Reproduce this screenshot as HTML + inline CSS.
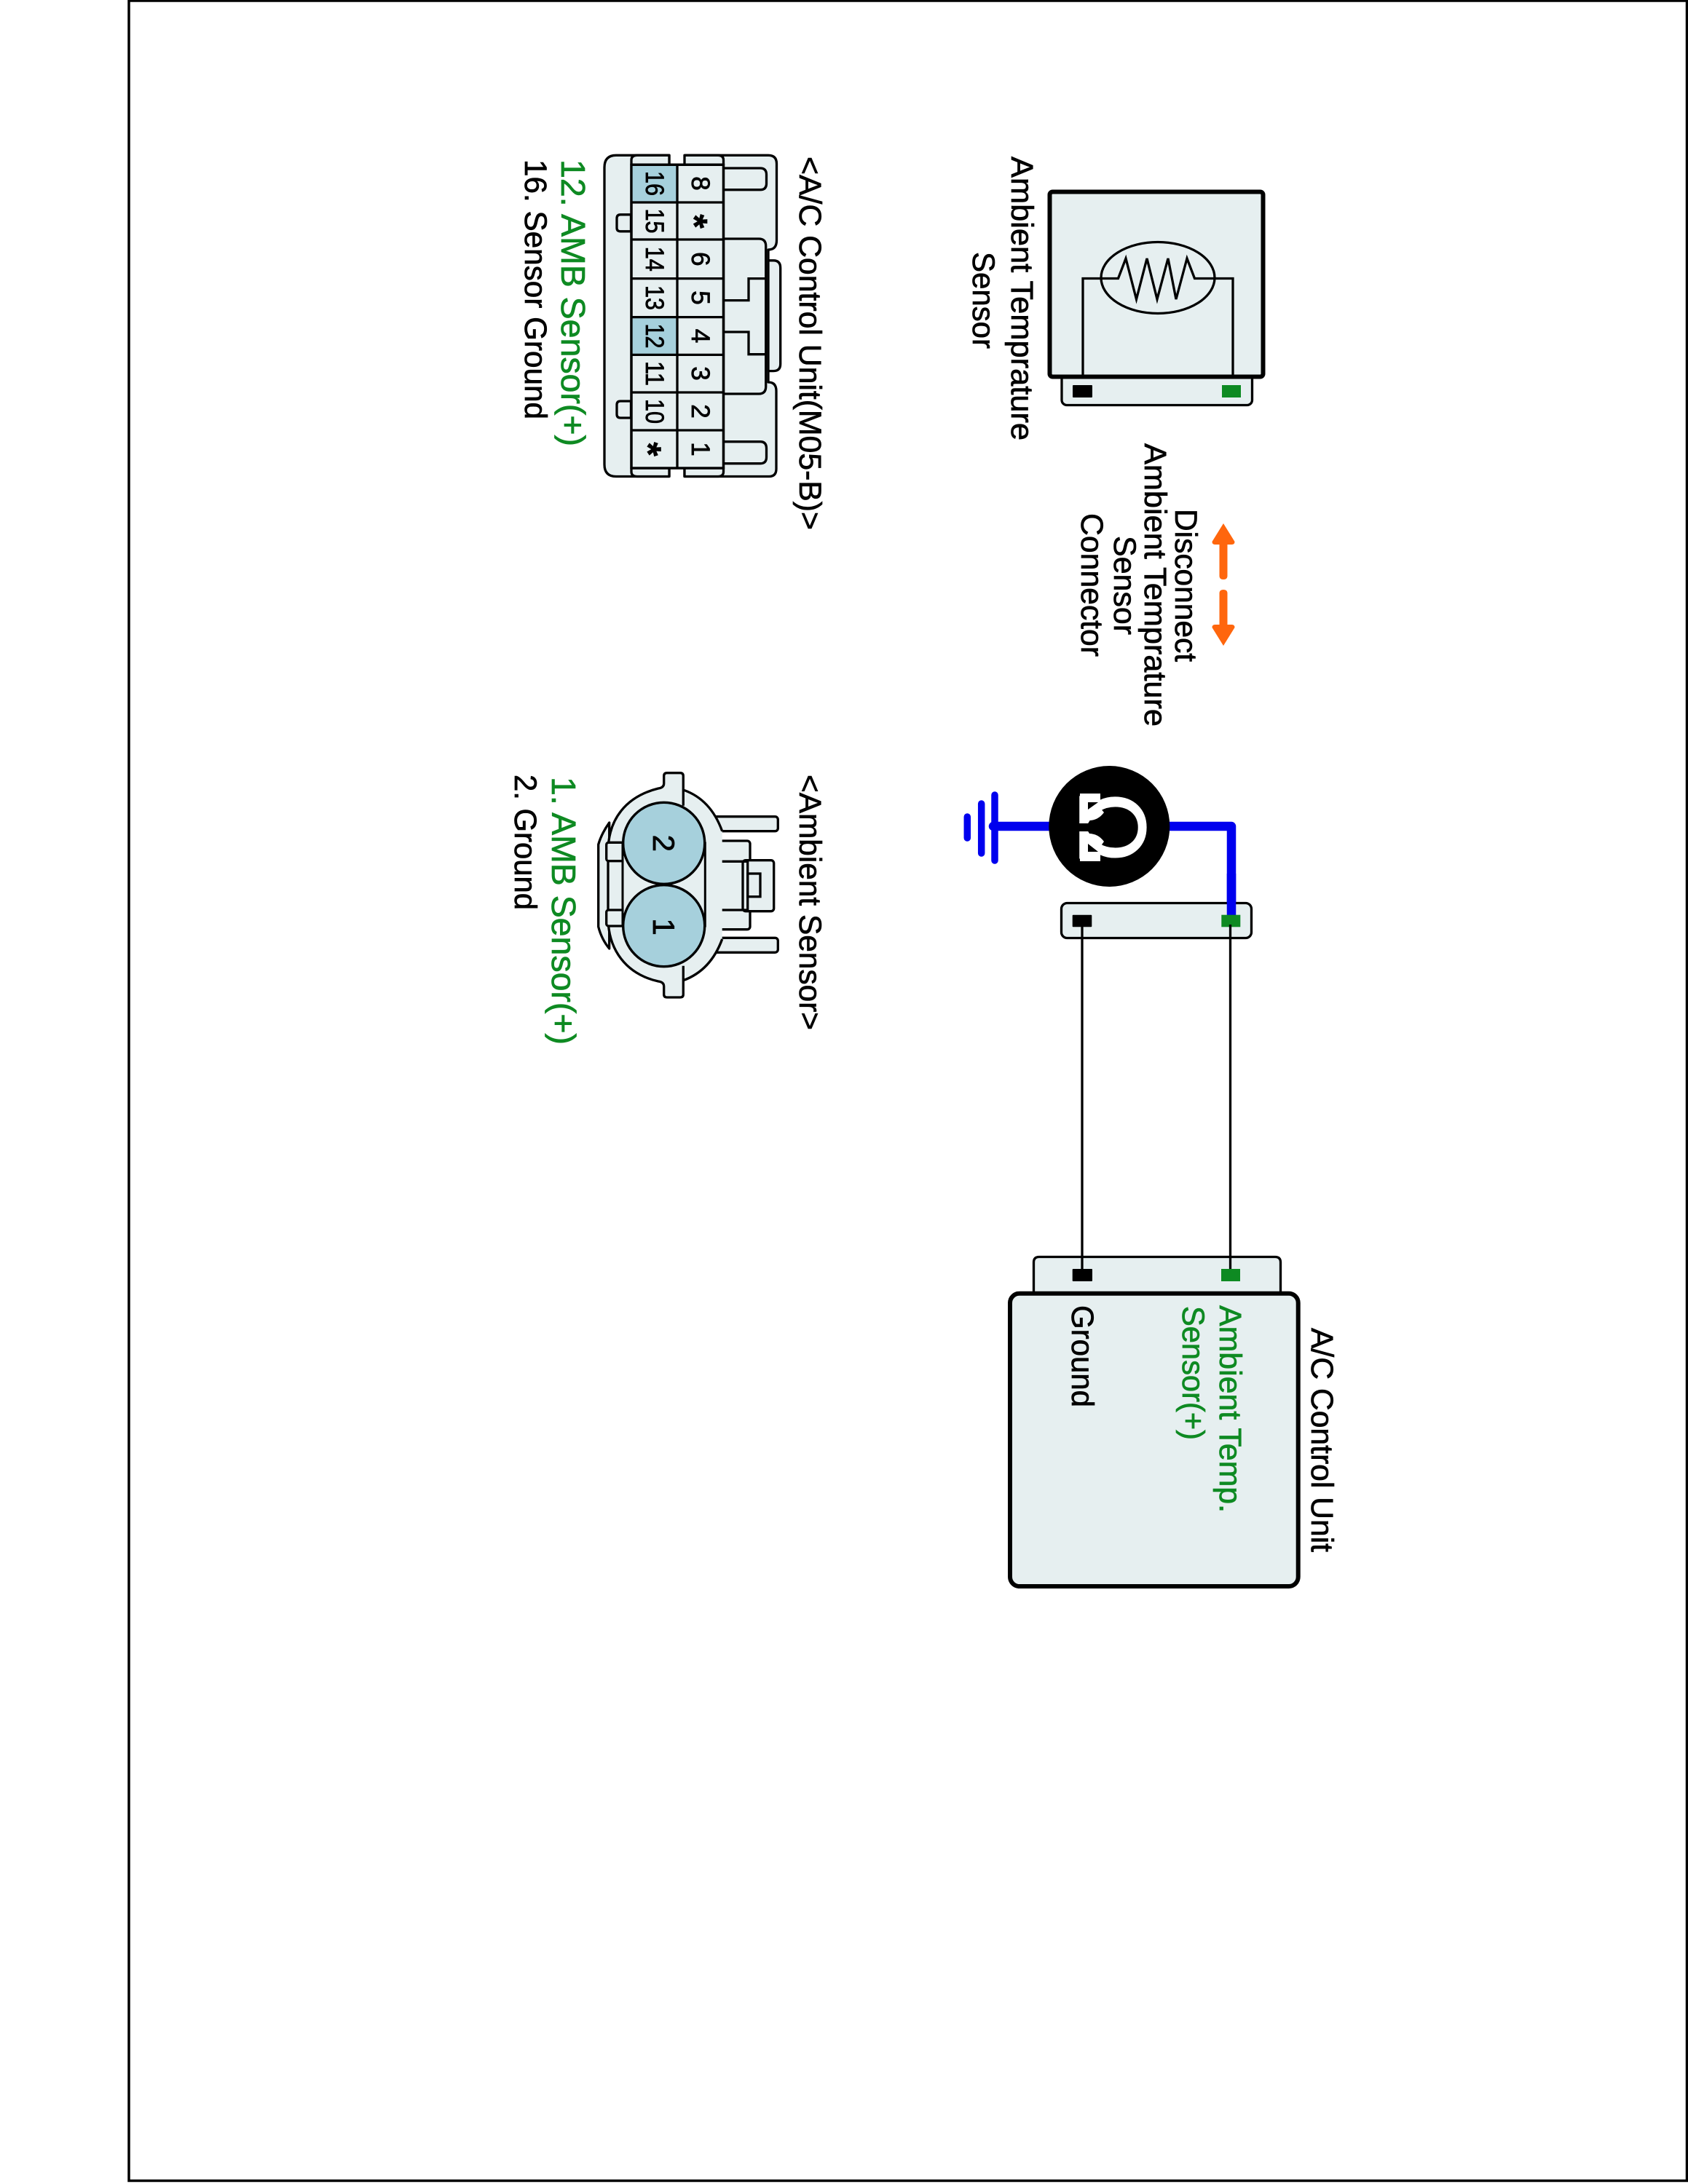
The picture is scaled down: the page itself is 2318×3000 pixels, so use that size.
<!DOCTYPE html>
<html><head><meta charset="utf-8"><style>
html,body{margin:0;padding:0;background:#fff;width:2318px;height:3000px;overflow:hidden}
svg{display:block}
text{font-family:"Liberation Sans",Arial,sans-serif;font-size:42.7px;fill:#000;stroke:#000;stroke-width:.7}
text.g{fill:#0e8a22;stroke:#0e8a22}
text.n{font-size:35px;text-anchor:middle;stroke-width:.8}
text.s{font-size:50px;font-weight:bold;text-anchor:middle}
text.d{font-size:42px;text-anchor:middle;stroke-width:.8}
.l{fill:#e6eff0;stroke:#000;stroke-width:3.3;stroke-linejoin:round}
.t{fill:none;stroke:#000;stroke-width:3.3}
.h{fill:#a6d0dc}
</style></head><body>
<svg width="2318" height="3000" viewBox="0 0 2318 3000" xmlns="http://www.w3.org/2000/svg">
<rect x="177" y="1" width="2139.5" height="2994.5" fill="#fff" stroke="#000" stroke-width="3.5"/>

<!-- Sensor -->
<rect x="1458" y="500" width="261.5" height="56.5" rx="7" class="l"/>
<rect x="1441.5" y="263.5" width="293" height="254" rx="4" fill="#e6eff0" stroke="#000" stroke-width="6"/>
<rect x="1473" y="529" width="27" height="17" fill="#000" rx="1"/>
<rect x="1678" y="529" width="26" height="17" fill="#0e8a22"/>
<ellipse cx="1590" cy="381.5" rx="78" ry="49" class="t"/>
<path d="M1487 518V382.5H1535.5L1546 355L1560.5 411L1575 355L1589 411L1604 355L1615 411L1630 355L1640.5 382.5H1693V518" class="t"/>
<text transform="translate(1389,215) rotate(90)" textLength="390" lengthAdjust="spacingAndGlyphs">Ambient Temprature</text>
<text transform="translate(1336,346) rotate(90)" textLength="133" lengthAdjust="spacingAndGlyphs">Sensor</text>

<!-- Arrows -->
<g transform="translate(-1.5,-3)">
<path d="M1681.5 722L1697 747Q1697 751 1693 751H1687V794Q1687 799 1681.5 799Q1676 799 1676 794V751H1670Q1666 751 1666 747Z" fill="#ff660d"/>
<path d="M1681.5 890L1697 865Q1697 861 1693 861H1687V818Q1687 813 1681.5 813Q1676 813 1676 818V861H1670Q1666 861 1666 865Z" fill="#ff660d"/>
</g>
<text transform="translate(1614,699) rotate(90)" textLength="210" lengthAdjust="spacingAndGlyphs">Disconnect</text>
<text transform="translate(1572,609) rotate(90)" textLength="389" lengthAdjust="spacingAndGlyphs">Ambient Temprature</text>
<text transform="translate(1530,736) rotate(90)" textLength="136" lengthAdjust="spacingAndGlyphs">Sensor</text>
<text transform="translate(1485,705) rotate(90)" textLength="197" lengthAdjust="spacingAndGlyphs">Connector</text>

<!-- Omega and ground -->
<g fill="none" stroke="#0000ee" stroke-linecap="round" stroke-linejoin="round">
<path d="M1364 1135H1691V1257" stroke-width="12.5"/>
<path d="M1366 1092V1182M1347.7 1104V1172M1328.3 1122V1151" stroke-width="9.5"/>
</g>
<circle cx="1523.3" cy="1135" r="83" fill="#000"/>
<text transform="translate(1483,1089.5) rotate(90)" style='font-family:"DejaVu Sans",sans-serif;font-size:123px;fill:#fff;stroke:#fff;stroke-width:1.5'>Ω</text>
<path d="M1483 1090H1511V1110L1516 1116Q1508 1127 1495 1127H1483ZM1483 1183H1511V1163L1516 1156Q1508 1145 1495 1145H1483Z" fill="#fff"/>
<path d="M1494 1102H1508L1494 1112ZM1494 1170H1508L1494 1159Z" fill="#000"/>

<!-- Middle connector -->
<rect x="1457.5" y="1240.5" width="261" height="48" rx="8" class="l"/>
<path d="M1691 1200V1258" stroke="#0000ee" stroke-width="12.5" fill="none"/>
<rect x="1472.7" y="1256.7" width="26.6" height="16.6" fill="#000" rx="1"/>
<rect x="1677.3" y="1256.7" width="26" height="16.6" fill="#0e8a22"/>

<!-- ACU -->
<path d="M1419.5 1776V1734Q1419.5 1726.5 1427 1726.5H1751Q1758.5 1726.5 1758.5 1734V1776Z" class="l"/>
<path d="M1486 1270V1745M1689.5 1270V1745" stroke="#000" stroke-width="3.3" fill="none"/>
<rect x="1472.7" y="1743" width="27.3" height="17" fill="#000" rx="1"/>
<rect x="1677" y="1743" width="26" height="17" fill="#0e8a22"/>
<rect x="1387" y="1776.7" width="395.7" height="402.3" rx="13" fill="#e6eff0" stroke="#000" stroke-width="6"/>
<text transform="translate(1801,1824) rotate(90)" textLength="308" lengthAdjust="spacingAndGlyphs">A/C Control Unit</text>
<text class="g" transform="translate(1675,1793) rotate(90)" textLength="285" lengthAdjust="spacingAndGlyphs">Ambient Temp.</text>
<text class="g" transform="translate(1624,1794) rotate(90)" textLength="184" lengthAdjust="spacingAndGlyphs">Sensor(+)</text>
<text transform="translate(1472,1793) rotate(90)" textLength="140" lengthAdjust="spacingAndGlyphs">Ground</text>

<!-- 16-pin connector -->
<path d="M919 213.3H846Q830 213.3 830 230V638Q830 654.5 846 654.5H919V643H940V654.5H1056Q1066 654.5 1066 644V537Q1066 525 1055 525V343Q1066.5 343 1066.5 330V225Q1066.5 213.3 1055 213.3H941V226.3H919Z" class="l"/>
<path d="M1055 357.8H1062Q1071.7 357.8 1071.7 368V500Q1071.7 509.6 1062 509.6H1055Z" class="l"/>
<path d="M993.5 328H1042Q1051.7 328 1051.7 338V531Q1051.7 541 1042 541H993.5Z" class="l"/>
<path d="M993.5 412.6H1028V382.6H1051.7M993.5 456H1028V486.7H1051.7" class="t"/>
<path d="M993.5 231H1044Q1052.5 231 1052.5 240V252Q1052.5 260.7 1044 260.7H993.5M993.5 606.7H1044Q1052.5 606.7 1052.5 616V628Q1052.5 636.7 1044 636.7H993.5" class="t"/>
<path d="M866.5 294.8H852Q847 294.8 847 300V313Q847 317.8 852 317.8H866.5ZM866.5 551H852Q847 551 847 556V569Q847 574 852 574H866.5Z" class="l"/>
<path d="M867 226.3V220Q867 213.3 875 213.3H919V226.3ZM940 226.3V213.3H986Q993.5 213.3 993.5 220V226.3ZM867 643H919V654.5H875Q867 654.5 867 648ZM940 643H993.5V648Q993.5 654.5 986 654.5H940Z" class="l"/>
<rect x="867" y="226.3" width="126.5" height="416.7" class="l"/>
<rect x="867" y="226.3" width="63" height="52" class="h"/>
<rect x="867" y="435.6" width="63" height="52" class="h"/>
<path d="M867 226.3H993.5V643H867ZM930 226.3V643M867 278H993.5M867 329H993.5M867 382.6H993.5M867 435.6H993.5M867 487.4H993.5M867 539H993.5M867 591H993.5" class="t"/>
<text class="n" transform="translate(887,252) rotate(90)" textLength="34" lengthAdjust="spacingAndGlyphs">16</text>
<text class="n" transform="translate(887,303.5) rotate(90)" textLength="34" lengthAdjust="spacingAndGlyphs">15</text>
<text class="n" transform="translate(887,355.8) rotate(90)" textLength="34" lengthAdjust="spacingAndGlyphs">14</text>
<text class="n" transform="translate(887,409) rotate(90)" textLength="34" lengthAdjust="spacingAndGlyphs">13</text>
<text class="n" transform="translate(887,461.5) rotate(90)" textLength="34" lengthAdjust="spacingAndGlyphs">12</text>
<text class="n" transform="translate(887,513) rotate(90)" textLength="34" lengthAdjust="spacingAndGlyphs">11</text>
<text class="n" transform="translate(887,565) rotate(90)" textLength="34" lengthAdjust="spacingAndGlyphs">10</text>
<text class="s" transform="translate(873,617) rotate(90)">*</text>
<text class="n" transform="translate(950,252) rotate(90)">8</text>
<text class="s" transform="translate(936.5,304) rotate(90)">*</text>
<text class="n" transform="translate(950,355.8) rotate(90)">6</text>
<text class="n" transform="translate(950,409) rotate(90)">5</text>
<text class="n" transform="translate(950,461.5) rotate(90)">4</text>
<text class="n" transform="translate(950,513) rotate(90)">3</text>
<text class="n" transform="translate(950,565) rotate(90)">2</text>
<text class="n" transform="translate(950,617) rotate(90)">1</text>
<text transform="translate(1098,215) rotate(90)" textLength="513" lengthAdjust="spacingAndGlyphs">&lt;A/C Control Unit(M05-B)&gt;</text>
<text class="g" transform="translate(771,219) rotate(90)" style="font-size:46px" textLength="394" lengthAdjust="spacingAndGlyphs">12. AMB Sensor(+)</text>
<text transform="translate(721,219) rotate(90)" textLength="357" lengthAdjust="spacingAndGlyphs">16. Sensor Ground</text>

<!-- 2-pin connector -->
<rect x="980" y="1121.7" width="88.3" height="20" rx="4" class="l"/>
<rect x="980" y="1288.3" width="88.3" height="20" rx="4" class="l"/>
<rect x="960" y="1155" width="70" height="121.7" rx="4" class="l"/>
<rect x="1020" y="1181.7" width="42.7" height="70" rx="4" class="l"/>
<path d="M1026.7 1181.7V1251.7M960 1183.3H1026.7M960 1250H1026.7" class="t"/>
<rect x="1026.7" y="1200" width="17.3" height="31.7" class="t"/>
<path d="M836.7 1130Q826 1145 821.7 1160V1273Q826 1290 836.7 1303Z" class="l"/>
<path d="M938.3 1085Q976 1098 991.7 1141.7V1290Q976 1333 938.3 1346.7V1366Q938.3 1370 934 1370H916Q911.7 1370 911.7 1366V1355Q911.7 1349 904 1348C860 1338 835 1305 835 1260V1170C835 1125 860 1094 904 1083Q911.7 1082 911.7 1076V1066Q911.7 1061.7 916 1061.7H934Q938.3 1061.7 938.3 1066Z" fill="#e6eff0"/>
<path d="M938.3 1106.7V1066Q938.3 1061.7 934 1061.7H916Q911.7 1061.7 911.7 1066V1076Q911.7 1082 904 1083C860 1094 835 1125 835 1170V1260C835 1305 860 1338 904 1348Q911.7 1349 911.7 1355V1366Q911.7 1370 916 1370H934Q938.3 1370 938.3 1366V1326.7" class="t"/>
<path d="M938.3 1085Q976 1098 991.7 1141.7M938.3 1346.7Q976 1333 991.7 1290" class="t"/>
<rect x="832.7" y="1157.3" width="24" height="25.4" rx="3" class="l"/>
<rect x="832.7" y="1250" width="24" height="22" rx="3" class="l"/>
<rect x="855" y="1158" width="113.3" height="114" fill="#e6eff0" stroke="#000" stroke-width="3"/>
<circle cx="911.7" cy="1158.3" r="56" class="h" stroke="#000" stroke-width="3.4"/>
<circle cx="911.7" cy="1271.7" r="56" class="h" stroke="#000" stroke-width="3.4"/>
<text class="d" transform="translate(897,1158.3) rotate(90)">2</text>
<text class="d" transform="translate(897,1273) rotate(90)">1</text>
<text transform="translate(1098,1064) rotate(90)" textLength="351" lengthAdjust="spacingAndGlyphs">&lt;Ambient Sensor&gt;</text>
<text class="g" transform="translate(758,1067) rotate(90)" style="font-size:46px" textLength="368" lengthAdjust="spacingAndGlyphs">1. AMB Sensor(+)</text>
<text transform="translate(707,1064) rotate(90)" textLength="186" lengthAdjust="spacingAndGlyphs">2. Ground</text>
</svg>
</body></html>
